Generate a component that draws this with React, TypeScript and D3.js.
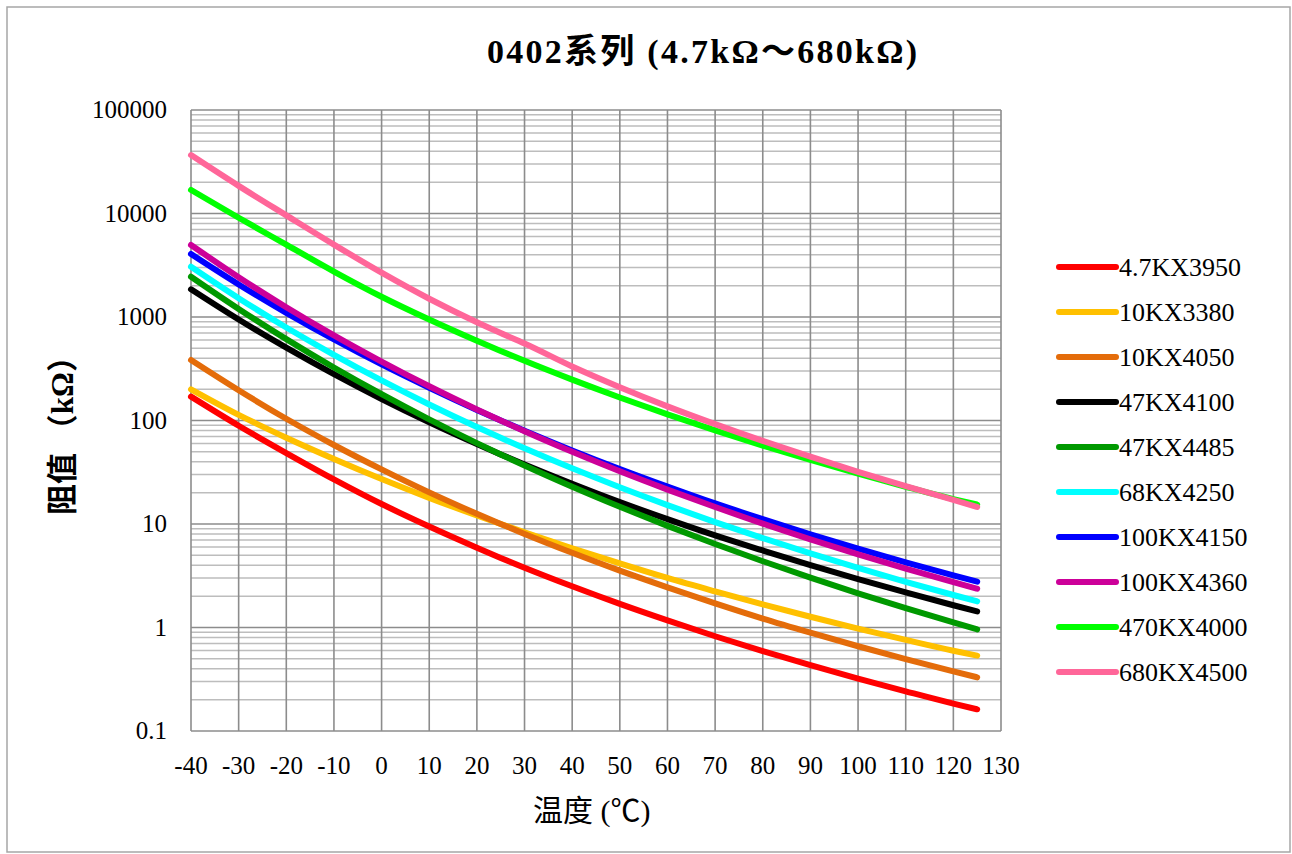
import React from 'react';
import * as d3 from 'd3';

const temps = [-40, -30, -20, -10, 0, 10, 20, 25, 30, 40, 50, 60, 70, 80, 90, 100, 110, 120, 125];

// Resistance values (kΩ) for each part
const r47K3950 = [170, 89, 48.5, 27, 15.6, 9.45, 5.9, 4.7, 3.78, 2.5, 1.69, 1.17, 0.823, 0.591, 0.432, 0.321, 0.242, 0.184, 0.162];
const r10K3380 = [200, 113.3, 68.2, 42.5, 27.2, 17.9, 12.08, 10, 8.32, 5.83, 4.16, 3.01, 2.23, 1.67, 1.27, 0.974, 0.758, 0.596, 0.535];
const r10K4050 = [384, 196, 104, 58, 33.7, 20.2, 12.55, 10, 8.02, 5.27, 3.54, 2.44, 1.71, 1.22, 0.891, 0.659, 0.495, 0.377, 0.33];
const r47K4100 = [1851, 945, 505, 280, 161, 96, 59.2, 47, 37.6, 24.5, 16.3, 11.14, 7.76, 5.55, 4.0, 2.93, 2.18, 1.64, 1.43];
const r47K4485 = [2450, 1197, 611, 325, 179.5, 102.6, 60.5, 47, 36.7, 22.9, 14.66, 9.59, 6.41, 4.37, 3.03, 2.14, 1.536, 1.119, 0.96];
const r68K4250 = [3059, 1520, 792, 431, 243.7, 142.8, 86.4, 68, 53.9, 34.5, 22.65, 15.21, 10.43, 7.3, 5.19, 3.76, 2.76, 2.06, 1.79];
const r100K4150 = [4061, 2064, 1097, 607, 348, 207, 126.5, 100, 79.6, 51.4, 34.0, 23.0, 15.8, 11.13, 7.95, 5.78, 4.26, 3.19, 2.77];
const r100K4360 = [4960, 2423, 1242, 665, 371, 214, 127.9, 100, 78.7, 49.8, 32.3, 21.5, 14.6, 10.07, 7.1, 5.09, 3.71, 2.74, 2.37];
const r470K4000 = [16900, 9100, 5000, 2750, 1570, 945, 589, 470, 377, 248, 166.8, 114.6, 80.3, 57.3, 41.6, 30.6, 22.9, 17.4, 15.4];
const r680K4500 = [36700, 18500, 9600, 5010, 2680, 1500, 890, 700, 555, 333, 210, 137, 92.3, 63.5, 44.7, 31.9, 23.2, 17.1, 14.6];

const seriesNames = ['4.7KX3950', '10KX3380', '10KX4050', '47KX4100', '47KX4485', '68KX4250', '100KX4150', '100KX4360', '470KX4000', '680KX4500'];
const seriesValues = [r47K3950, r10K3380, r10K4050, r47K4100, r47K4485, r68K4250, r100K4150, r100K4360, r470K4000, r680K4500];
const seriesColors = ['#FF0000', '#FFC000', '#E46C0A', '#000000', '#009900', '#00FFFF', '#0000FF', '#CC0099', '#00FF00', '#FF6699'];

const xTicks = [-40, -30, -20, -10, 0, 10, 20, 30, 40, 50, 60, 70, 80, 90, 100, 110, 120, 130];
const yTicks = [0.1, 1, 10, 100, 1000, 10000, 100000];
const yTickLabels = ['0.1', '1', '10', '100', '1000', '10000', '100000'];

const titleText = '0402系列  (4.7kΩ～680kΩ)';
const xTitleMain = '温度 (';
const xTitleUnit = '℃';
const xTitleEnd = ')';
const yTitle = '阻值 （kΩ）';

const serif = "'Liberation Serif', 'Times New Roman', 'Noto Sans CJK SC', serif";
const cjk = "'Noto Sans CJK JP', 'Noto Sans CJK SC', sans-serif";

export default function App() {
  const W = 1292;
  const H = 854;
  const left = 191, right = 1001, top = 110, bottom = 731;

  const x = d3.scaleLinear().domain([-40, 130]).range([left, right]);
  const y = d3.scaleLog().domain([0.1, 100000]).range([bottom, top]);

  const minor: number[] = [];
  for (let i = 0; i < yTicks.length - 1; i++) {
    for (let k = 2; k <= 9; k++) minor.push(yTicks[i] * k);
  }

  const line = d3
    .line<number>()
    .x((_, i) => x(temps[i]))
    .y((v) => y(v))
    .curve(d3.curveMonotoneX);

  const legendX = 1059;
  const legendY0 = 267;
  const legendStep = 45;

  return (
    <svg
      width={W}
      height={H}
      style={{ position: 'absolute', left: 0, top: 0, display: 'block', background: '#fff' }}
    >
      <rect x={7} y={7} width={1283} height={845} fill="#fff" stroke="#a6a6a6" strokeWidth={1.5} />

      {/* minor horizontal grid */}
      {minor.map((v, i) => (
        <line key={'mi' + i} x1={left} x2={right} y1={y(v)} y2={y(v)} stroke="#bdbdbd" strokeWidth={1.5} />
      ))}
      {/* vertical grid */}
      {xTicks.map((t) => (
        <line key={'vx' + t} x1={x(t)} x2={x(t)} y1={top} y2={bottom} stroke="#8c8c8c" strokeWidth={1.6} />
      ))}
      {/* major horizontal grid */}
      {yTicks.map((v) => (
        <line key={'ma' + v} x1={left} x2={right} y1={y(v)} y2={y(v)} stroke="#8c8c8c" strokeWidth={1.6} />
      ))}

      {/* series */}
      {seriesValues.map((vals, i) => (
        <path
          key={'s' + i}
          d={line(vals) || ''}
          fill="none"
          stroke={seriesColors[i]}
          strokeWidth={6}
          strokeLinecap="round"
          strokeLinejoin="round"
        />
      ))}

      {/* y tick labels */}
      {yTicks.map((v, i) => (
        <text key={'yl' + v} x={167} y={y(v) + 8} textAnchor="end" fontFamily={serif} fontSize={25} fill="#000">
          {yTickLabels[i]}
        </text>
      ))}
      {/* x tick labels */}
      {xTicks.map((t) => (
        <text key={'xl' + t} x={x(t)} y={774} textAnchor="middle" fontFamily={serif} fontSize={25} fill="#000">
          {String(t)}
        </text>
      ))}

      {/* title */}
      <text
        x={487}
        y={63}
        textLength={430}
        lengthAdjust="spacing"
        fontFamily={serif}
        fontSize={34}
        fontWeight="bold"
        fill="#000"
      >
        {titleText}
      </text>

      {/* axis titles */}
      <text x={533} y={821} fontFamily={serif} fontSize={30} fill="#000">
        {xTitleMain}
        <tspan fontFamily={cjk}>{xTitleUnit}</tspan>
        {xTitleEnd}
      </text>
      <text
        transform="translate(73,428) rotate(-90)"
        textAnchor="middle"
        fontFamily={serif}
        fontSize={31}
        fontWeight="bold"
        fill="#000"
      >
        {yTitle}
      </text>

      {/* legend */}
      {seriesNames.map((name, i) => (
        <g key={'lg' + i}>
          <line
            x1={legendX}
            x2={legendX + 57}
            y1={legendY0 + i * legendStep}
            y2={legendY0 + i * legendStep}
            stroke={seriesColors[i]}
            strokeWidth={6}
            strokeLinecap="round"
          />
          <text x={legendX + 60} y={legendY0 + i * legendStep + 9} fontFamily={serif} fontSize={26} fill="#000">
            {name}
          </text>
        </g>
      ))}
    </svg>
  );
}
